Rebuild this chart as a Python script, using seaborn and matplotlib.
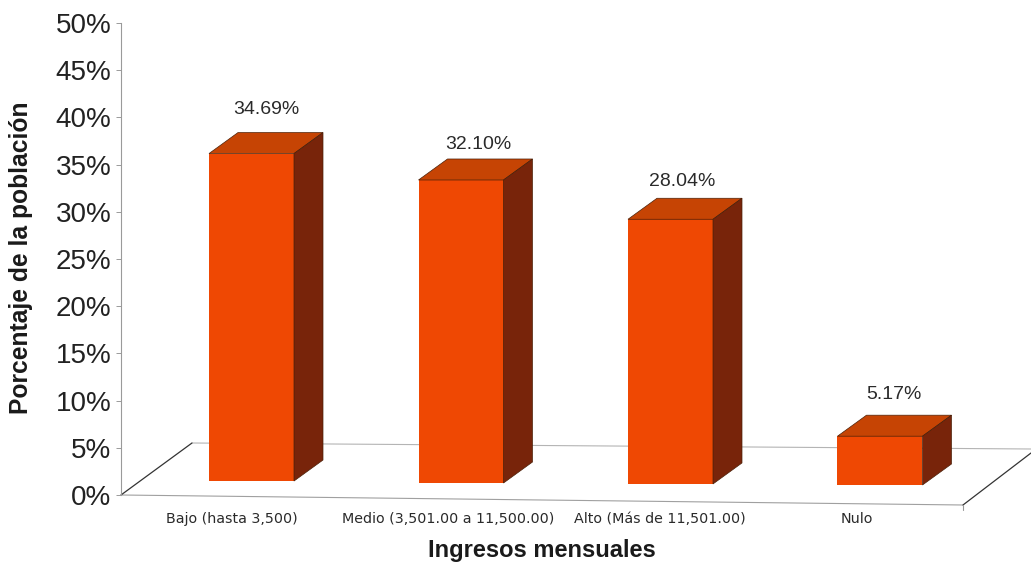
import matplotlib
matplotlib.use("Agg")
import matplotlib.pyplot as plt
from matplotlib.patches import Polygon
from matplotlib.lines import Line2D
from matplotlib.transforms import Affine2D
import pandas as pd
import seaborn as sns

# Income groups and their share of the population
categorias = ["Bajo (hasta 3,500)", "Medio (3,501.00 a 11,500.00)",
              "Alto (Más de 11,501.00)", "Nulo"]
porcentajes = [34.69, 32.10, 28.04, 5.17]
etiquetas = ["34.69%", "32.10%", "28.04%", "5.17%"]
ticks_y = list(range(0, 51, 5))

W, H = 1031, 562
FRENTE, TAPA, LADO = "#EF4803", "#C64404", "#78240A"
GRIS = "#9a9a9a"
FUENTE = "Liberation Sans"

sns.set_theme(style="white")
fig = plt.figure(figsize=(W / 100, H / 100), dpi=100, facecolor="#ffffff")
ax = fig.add_axes([121 / W, (H - 495) / H, 842 / W, 472 / H])
ax.patch.set_alpha(0)
ax.set_zorder(2)

df = pd.DataFrame({"ingreso": categorias, "pct": porcentajes})
sns.barplot(data=df, x="ingreso", y="pct", color=FRENTE, saturation=1,
            width=85 / 209.5, ax=ax, zorder=3)

ax.set_xlim(-130.5 / 209.5, (963 - 251.5) / 209.5)
ax.set_ylim(0, 50)

# 3D look: each bar stands on the floor and gets a top and a side face
PX_X = 1 / 209.5
PX_Y = 50 / 472
prof_x, prof_y = 29 * PX_X, 21 * PX_Y
suelo = [1.48, 1.27, 1.17, 1.06]
for barra, base in zip(ax.patches, suelo):
    barra.set_y(base)
    barra.set_linewidth(0)
    x0, x1 = barra.get_x(), barra.get_x() + barra.get_width()
    y0, y1 = base, base + barra.get_height()
    ax.add_patch(Polygon([(x0, y1), (x1, y1), (x1 + prof_x, y1 + prof_y), (x0 + prof_x, y1 + prof_y)],
                         closed=True, fc=TAPA, ec="#4a2008", lw=0.5, zorder=3))
    ax.add_patch(Polygon([(x1, y0), (x1 + prof_x, y0 + prof_y), (x1 + prof_x, y1 + prof_y), (x1, y1)],
                         closed=True, fc=LADO, ec="#4a2008", lw=0.5, zorder=3))

# Value labels above each bar
desp_x = [14.5, 17, 12, 13.5]
desp_y = [23, 14, 17, 21]
for i, (barra, txt) in enumerate(zip(ax.patches, etiquetas)):
    tope = barra.get_y() + barra.get_height() + prof_y
    ax.text(i + desp_x[i] * PX_X, tope + desp_y[i] * PX_Y, txt, ha="center", va="center",
            fontsize=14, family=FUENTE, color="#2a2a2a", zorder=4)

# Floor outline, in figure pixels measured from the top-left corner
px = Affine2D().scale(1, -1).translate(0, H)
for xs, ys, color, lw in [([121, 963], [495, 505], "#a0a0a0", 0.8),
                          ([192, 1031], [443, 449], "#b4b4b4", 0.8),
                          ([121, 192], [495, 443], "#333333", 0.9),
                          ([963, 1031], [505, 453], "#333333", 0.9),
                          ([963, 963], [505, 510], GRIS, 0.8)]:
    fig.add_artist(Line2D(xs, ys, transform=px, color=color, lw=lw, zorder=1))

# Axes furniture
for lado in ("top", "right", "bottom"):
    ax.spines[lado].set_visible(False)
ax.spines["left"].set_color(GRIS)
ax.spines["left"].set_linewidth(0.8)

ax.set_yticks(ticks_y, [f"{v}%" for v in ticks_y])
ax.tick_params(axis="y", length=3.5, width=0.7, color=GRIS, pad=3.5, left=True,
               labelsize=20, labelcolor="#222222")
for t in ax.get_yticklabels():
    t.set_family(FUENTE)

pos_cat = [(c - 251.5) * PX_X for c in (232, 448, 660, 857)]
ax.set_xticks(pos_cat, categorias)
ax.tick_params(axis="x", length=0, pad=12.5, labelsize=10.3, labelcolor="#2a2a2a")
for t in ax.get_xticklabels():
    t.set_family("DejaVu Sans")

ax.set_xlabel("Ingresos mensuales", family=FUENTE, fontweight="bold",
              fontsize=17, color="#1a1a1a")
ax.xaxis.set_label_coords((542 - 121) / 842, -55 / 472)
ax.xaxis.label.set_va("center")
ax.set_ylabel("Porcentaje de la población", family=FUENTE, fontweight="bold",
              fontsize=17.7, color="#1a1a1a")
ax.yaxis.set_label_coords(-100 / 842, (495 - 258) / 472)
ax.yaxis.label.set_va("center")

fig.savefig("out.png", dpi=100, facecolor=fig.get_facecolor())
